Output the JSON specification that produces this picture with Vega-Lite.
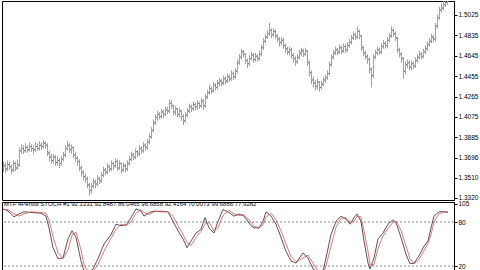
{
"$schema":"https://vega.github.io/schema/vega-lite/v6.json",
"padding":{"left":1,"top":0,"right":27,"bottom":0},
"bounds":"flush",
"spacing":2,
"background":"white",
"config":{"view":{"stroke":"#000","strokeWidth":1},"axis":{"labelFont":"Liberation Sans","labelFontSize":6.5,"labelColor":"#000","tickSize":3,"tickColor":"#000","domainColor":"#000","labelPadding":1,"title":null,"grid":false,"labelOverlap":false,"labelFlush":false,"labelBound":false}},
"datasets":{
"bars":[
{"i":0,"o":1.360,"h":1.366,"l":1.356,"c":1.362},
{"i":1,"o":1.362,"h":1.365,"l":1.355,"c":1.359},
{"i":2,"o":1.359,"h":1.367,"l":1.357,"c":1.363},
{"i":3,"o":1.363,"h":1.366,"l":1.358,"c":1.361},
{"i":4,"o":1.361,"h":1.363,"l":1.354,"c":1.358},
{"i":5,"o":1.358,"h":1.367,"l":1.356,"c":1.364},
{"i":6,"o":1.364,"h":1.366,"l":1.357,"c":1.360},
{"i":7,"o":1.360,"h":1.368,"l":1.358,"c":1.362},
{"i":8,"o":1.363,"h":1.379,"l":1.361,"c":1.376},
{"i":9,"o":1.376,"h":1.382,"l":1.373,"c":1.378},
{"i":10,"o":1.378,"h":1.381,"l":1.373,"c":1.376},
{"i":11,"o":1.376,"h":1.383,"l":1.374,"c":1.379},
{"i":12,"o":1.379,"h":1.381,"l":1.374,"c":1.377},
{"i":13,"o":1.377,"h":1.384,"l":1.375,"c":1.380},
{"i":14,"o":1.380,"h":1.382,"l":1.375,"c":1.378},
{"i":15,"o":1.378,"h":1.381,"l":1.373,"c":1.377},
{"i":16,"o":1.377,"h":1.384,"l":1.375,"c":1.380},
{"i":17,"o":1.380,"h":1.383,"l":1.376,"c":1.378},
{"i":18,"o":1.378,"h":1.385,"l":1.376,"c":1.381},
{"i":19,"o":1.381,"h":1.384,"l":1.377,"c":1.380},
{"i":20,"o":1.380,"h":1.386,"l":1.378,"c":1.383},
{"i":21,"o":1.383,"h":1.385,"l":1.378,"c":1.381},
{"i":22,"o":1.381,"h":1.383,"l":1.371,"c":1.374},
{"i":23,"o":1.374,"h":1.376,"l":1.366,"c":1.370},
{"i":24,"o":1.370,"h":1.373,"l":1.364,"c":1.367},
{"i":25,"o":1.367,"h":1.373,"l":1.364,"c":1.370},
{"i":26,"o":1.370,"h":1.372,"l":1.362,"c":1.365},
{"i":27,"o":1.365,"h":1.371,"l":1.362,"c":1.367},
{"i":28,"o":1.367,"h":1.369,"l":1.360,"c":1.364},
{"i":29,"o":1.364,"h":1.371,"l":1.362,"c":1.368},
{"i":30,"o":1.368,"h":1.375,"l":1.366,"c":1.372},
{"i":31,"o":1.372,"h":1.381,"l":1.370,"c":1.378},
{"i":32,"o":1.378,"h":1.385,"l":1.376,"c":1.381},
{"i":33,"o":1.381,"h":1.383,"l":1.374,"c":1.377},
{"i":34,"o":1.377,"h":1.382,"l":1.373,"c":1.379},
{"i":35,"o":1.379,"h":1.380,"l":1.369,"c":1.372},
{"i":36,"o":1.372,"h":1.375,"l":1.366,"c":1.369},
{"i":37,"o":1.369,"h":1.371,"l":1.362,"c":1.366},
{"i":38,"o":1.366,"h":1.368,"l":1.357,"c":1.360},
{"i":39,"o":1.360,"h":1.362,"l":1.352,"c":1.356},
{"i":40,"o":1.356,"h":1.358,"l":1.348,"c":1.352},
{"i":41,"o":1.352,"h":1.355,"l":1.346,"c":1.350},
{"i":42,"o":1.350,"h":1.352,"l":1.341,"c":1.344},
{"i":43,"o":1.344,"h":1.346,"l":1.334,"c":1.339},
{"i":44,"o":1.339,"h":1.346,"l":1.336,"c":1.343},
{"i":45,"o":1.343,"h":1.350,"l":1.341,"c":1.347},
{"i":46,"o":1.347,"h":1.349,"l":1.341,"c":1.345},
{"i":47,"o":1.345,"h":1.353,"l":1.343,"c":1.350},
{"i":48,"o":1.350,"h":1.352,"l":1.345,"c":1.348},
{"i":49,"o":1.348,"h":1.356,"l":1.346,"c":1.353},
{"i":50,"o":1.353,"h":1.361,"l":1.351,"c":1.358},
{"i":51,"o":1.358,"h":1.360,"l":1.353,"c":1.356},
{"i":52,"o":1.356,"h":1.364,"l":1.354,"c":1.361},
{"i":53,"o":1.361,"h":1.363,"l":1.356,"c":1.359},
{"i":54,"o":1.359,"h":1.367,"l":1.357,"c":1.364},
{"i":55,"o":1.364,"h":1.366,"l":1.358,"c":1.362},
{"i":56,"o":1.362,"h":1.369,"l":1.360,"c":1.366},
{"i":57,"o":1.366,"h":1.368,"l":1.357,"c":1.360},
{"i":58,"o":1.360,"h":1.367,"l":1.358,"c":1.364},
{"i":59,"o":1.364,"h":1.365,"l":1.355,"c":1.358},
{"i":60,"o":1.358,"h":1.365,"l":1.356,"c":1.362},
{"i":61,"o":1.362,"h":1.364,"l":1.356,"c":1.359},
{"i":62,"o":1.359,"h":1.367,"l":1.357,"c":1.364},
{"i":63,"o":1.364,"h":1.371,"l":1.362,"c":1.368},
{"i":64,"o":1.368,"h":1.375,"l":1.366,"c":1.372},
{"i":65,"o":1.372,"h":1.374,"l":1.367,"c":1.370},
{"i":66,"o":1.370,"h":1.378,"l":1.368,"c":1.375},
{"i":67,"o":1.375,"h":1.377,"l":1.370,"c":1.373},
{"i":68,"o":1.373,"h":1.381,"l":1.371,"c":1.378},
{"i":69,"o":1.378,"h":1.380,"l":1.373,"c":1.376},
{"i":70,"o":1.376,"h":1.384,"l":1.374,"c":1.381},
{"i":71,"o":1.381,"h":1.383,"l":1.376,"c":1.379},
{"i":72,"o":1.379,"h":1.387,"l":1.377,"c":1.384},
{"i":73,"o":1.384,"h":1.392,"l":1.382,"c":1.389},
{"i":74,"o":1.389,"h":1.398,"l":1.387,"c":1.395},
{"i":75,"o":1.395,"h":1.405,"l":1.393,"c":1.402},
{"i":76,"o":1.402,"h":1.410,"l":1.400,"c":1.407},
{"i":77,"o":1.407,"h":1.413,"l":1.404,"c":1.410},
{"i":78,"o":1.410,"h":1.412,"l":1.405,"c":1.408},
{"i":79,"o":1.408,"h":1.415,"l":1.406,"c":1.412},
{"i":80,"o":1.412,"h":1.414,"l":1.406,"c":1.410},
{"i":81,"o":1.410,"h":1.417,"l":1.408,"c":1.414},
{"i":82,"o":1.414,"h":1.417,"l":1.410,"c":1.413},
{"i":83,"o":1.413,"h":1.424,"l":1.411,"c":1.420},
{"i":84,"o":1.420,"h":1.423,"l":1.415,"c":1.418},
{"i":85,"o":1.418,"h":1.419,"l":1.409,"c":1.412},
{"i":86,"o":1.412,"h":1.418,"l":1.409,"c":1.415},
{"i":87,"o":1.415,"h":1.416,"l":1.407,"c":1.410},
{"i":88,"o":1.410,"h":1.416,"l":1.407,"c":1.413},
{"i":89,"o":1.413,"h":1.414,"l":1.404,"c":1.408},
{"i":90,"o":1.408,"h":1.410,"l":1.400,"c":1.404},
{"i":91,"o":1.404,"h":1.412,"l":1.402,"c":1.409},
{"i":92,"o":1.409,"h":1.416,"l":1.407,"c":1.413},
{"i":93,"o":1.413,"h":1.420,"l":1.411,"c":1.417},
{"i":94,"o":1.417,"h":1.419,"l":1.412,"c":1.415},
{"i":95,"o":1.415,"h":1.422,"l":1.413,"c":1.419},
{"i":96,"o":1.419,"h":1.421,"l":1.414,"c":1.417},
{"i":97,"o":1.417,"h":1.423,"l":1.414,"c":1.420},
{"i":98,"o":1.420,"h":1.422,"l":1.415,"c":1.418},
{"i":99,"o":1.418,"h":1.425,"l":1.416,"c":1.422},
{"i":100,"o":1.422,"h":1.424,"l":1.414,"c":1.418},
{"i":101,"o":1.418,"h":1.429,"l":1.416,"c":1.426},
{"i":102,"o":1.426,"h":1.433,"l":1.424,"c":1.430},
{"i":103,"o":1.430,"h":1.437,"l":1.428,"c":1.434},
{"i":104,"o":1.434,"h":1.436,"l":1.429,"c":1.432},
{"i":105,"o":1.432,"h":1.440,"l":1.430,"c":1.437},
{"i":106,"o":1.437,"h":1.439,"l":1.432,"c":1.435},
{"i":107,"o":1.435,"h":1.442,"l":1.433,"c":1.439},
{"i":108,"o":1.439,"h":1.444,"l":1.436,"c":1.441},
{"i":109,"o":1.441,"h":1.443,"l":1.436,"c":1.439},
{"i":110,"o":1.439,"h":1.446,"l":1.437,"c":1.443},
{"i":111,"o":1.443,"h":1.445,"l":1.438,"c":1.441},
{"i":112,"o":1.441,"h":1.448,"l":1.439,"c":1.445},
{"i":113,"o":1.445,"h":1.447,"l":1.440,"c":1.443},
{"i":114,"o":1.443,"h":1.451,"l":1.441,"c":1.448},
{"i":115,"o":1.448,"h":1.450,"l":1.442,"c":1.445},
{"i":116,"o":1.445,"h":1.453,"l":1.443,"c":1.450},
{"i":117,"o":1.450,"h":1.461,"l":1.448,"c":1.458},
{"i":118,"o":1.458,"h":1.466,"l":1.456,"c":1.463},
{"i":119,"o":1.463,"h":1.471,"l":1.461,"c":1.468},
{"i":120,"o":1.468,"h":1.470,"l":1.463,"c":1.466},
{"i":121,"o":1.466,"h":1.467,"l":1.457,"c":1.460},
{"i":122,"o":1.460,"h":1.462,"l":1.453,"c":1.457},
{"i":123,"o":1.457,"h":1.465,"l":1.455,"c":1.462},
{"i":124,"o":1.462,"h":1.468,"l":1.460,"c":1.465},
{"i":125,"o":1.465,"h":1.467,"l":1.458,"c":1.461},
{"i":126,"o":1.461,"h":1.467,"l":1.459,"c":1.464},
{"i":127,"o":1.464,"h":1.466,"l":1.459,"c":1.462},
{"i":128,"o":1.462,"h":1.469,"l":1.460,"c":1.466},
{"i":129,"o":1.466,"h":1.475,"l":1.464,"c":1.472},
{"i":130,"o":1.472,"h":1.481,"l":1.470,"c":1.478},
{"i":131,"o":1.478,"h":1.485,"l":1.476,"c":1.482},
{"i":132,"o":1.482,"h":1.488,"l":1.480,"c":1.485},
{"i":133,"o":1.485,"h":1.495,"l":1.483,"c":1.488},
{"i":134,"o":1.488,"h":1.490,"l":1.481,"c":1.484},
{"i":135,"o":1.484,"h":1.490,"l":1.482,"c":1.487},
{"i":136,"o":1.487,"h":1.489,"l":1.480,"c":1.483},
{"i":137,"o":1.483,"h":1.485,"l":1.477,"c":1.480},
{"i":138,"o":1.480,"h":1.482,"l":1.473,"c":1.477},
{"i":139,"o":1.477,"h":1.482,"l":1.474,"c":1.479},
{"i":140,"o":1.479,"h":1.481,"l":1.471,"c":1.474},
{"i":141,"o":1.474,"h":1.476,"l":1.467,"c":1.471},
{"i":142,"o":1.471,"h":1.473,"l":1.465,"c":1.468},
{"i":143,"o":1.468,"h":1.473,"l":1.465,"c":1.470},
{"i":144,"o":1.470,"h":1.472,"l":1.462,"c":1.465},
{"i":145,"o":1.465,"h":1.467,"l":1.458,"c":1.462},
{"i":146,"o":1.462,"h":1.464,"l":1.455,"c":1.459},
{"i":147,"o":1.459,"h":1.466,"l":1.457,"c":1.463},
{"i":148,"o":1.463,"h":1.470,"l":1.461,"c":1.467},
{"i":149,"o":1.467,"h":1.472,"l":1.464,"c":1.469},
{"i":150,"o":1.469,"h":1.471,"l":1.463,"c":1.466},
{"i":151,"o":1.466,"h":1.472,"l":1.464,"c":1.469},
{"i":152,"o":1.469,"h":1.470,"l":1.455,"c":1.458},
{"i":153,"o":1.458,"h":1.460,"l":1.445,"c":1.449},
{"i":154,"o":1.449,"h":1.451,"l":1.438,"c":1.442},
{"i":155,"o":1.442,"h":1.445,"l":1.435,"c":1.439},
{"i":156,"o":1.439,"h":1.442,"l":1.432,"c":1.436},
{"i":157,"o":1.436,"h":1.443,"l":1.433,"c":1.440},
{"i":158,"o":1.440,"h":1.441,"l":1.431,"c":1.435},
{"i":159,"o":1.435,"h":1.441,"l":1.433,"c":1.438},
{"i":160,"o":1.438,"h":1.445,"l":1.436,"c":1.442},
{"i":161,"o":1.442,"h":1.447,"l":1.439,"c":1.444},
{"i":162,"o":1.444,"h":1.451,"l":1.442,"c":1.448},
{"i":163,"o":1.448,"h":1.459,"l":1.446,"c":1.456},
{"i":164,"o":1.456,"h":1.466,"l":1.454,"c":1.463},
{"i":165,"o":1.463,"h":1.470,"l":1.461,"c":1.467},
{"i":166,"o":1.467,"h":1.473,"l":1.465,"c":1.470},
{"i":167,"o":1.470,"h":1.472,"l":1.465,"c":1.468},
{"i":168,"o":1.468,"h":1.475,"l":1.466,"c":1.472},
{"i":169,"o":1.472,"h":1.474,"l":1.466,"c":1.469},
{"i":170,"o":1.469,"h":1.476,"l":1.467,"c":1.473},
{"i":171,"o":1.473,"h":1.475,"l":1.467,"c":1.470},
{"i":172,"o":1.470,"h":1.477,"l":1.468,"c":1.474},
{"i":173,"o":1.474,"h":1.480,"l":1.472,"c":1.477},
{"i":174,"o":1.477,"h":1.484,"l":1.475,"c":1.481},
{"i":175,"o":1.481,"h":1.487,"l":1.479,"c":1.484},
{"i":176,"o":1.484,"h":1.486,"l":1.479,"c":1.482},
{"i":177,"o":1.482,"h":1.492,"l":1.480,"c":1.487},
{"i":178,"o":1.487,"h":1.489,"l":1.480,"c":1.483},
{"i":179,"o":1.483,"h":1.484,"l":1.469,"c":1.472},
{"i":180,"o":1.472,"h":1.474,"l":1.464,"c":1.467},
{"i":181,"o":1.467,"h":1.469,"l":1.461,"c":1.464},
{"i":182,"o":1.464,"h":1.466,"l":1.457,"c":1.461},
{"i":183,"o":1.461,"h":1.463,"l":1.448,"c":1.452},
{"i":184,"o":1.452,"h":1.454,"l":1.435,"c":1.446},
{"i":185,"o":1.446,"h":1.466,"l":1.444,"c":1.463},
{"i":186,"o":1.463,"h":1.470,"l":1.461,"c":1.467},
{"i":187,"o":1.467,"h":1.473,"l":1.465,"c":1.470},
{"i":188,"o":1.470,"h":1.472,"l":1.465,"c":1.468},
{"i":189,"o":1.468,"h":1.476,"l":1.466,"c":1.473},
{"i":190,"o":1.473,"h":1.479,"l":1.471,"c":1.476},
{"i":191,"o":1.476,"h":1.478,"l":1.471,"c":1.474},
{"i":192,"o":1.474,"h":1.482,"l":1.472,"c":1.479},
{"i":193,"o":1.479,"h":1.486,"l":1.477,"c":1.483},
{"i":194,"o":1.483,"h":1.492,"l":1.481,"c":1.488},
{"i":195,"o":1.488,"h":1.490,"l":1.482,"c":1.485},
{"i":196,"o":1.485,"h":1.487,"l":1.478,"c":1.481},
{"i":197,"o":1.481,"h":1.482,"l":1.467,"c":1.470},
{"i":198,"o":1.470,"h":1.472,"l":1.463,"c":1.466},
{"i":199,"o":1.466,"h":1.468,"l":1.458,"c":1.462},
{"i":200,"o":1.462,"h":1.463,"l":1.443,"c":1.450},
{"i":201,"o":1.450,"h":1.459,"l":1.447,"c":1.456},
{"i":202,"o":1.456,"h":1.461,"l":1.453,"c":1.458},
{"i":203,"o":1.458,"h":1.460,"l":1.451,"c":1.454},
{"i":204,"o":1.454,"h":1.460,"l":1.451,"c":1.457},
{"i":205,"o":1.457,"h":1.459,"l":1.452,"c":1.455},
{"i":206,"o":1.455,"h":1.463,"l":1.453,"c":1.460},
{"i":207,"o":1.460,"h":1.466,"l":1.458,"c":1.463},
{"i":208,"o":1.463,"h":1.469,"l":1.461,"c":1.466},
{"i":209,"o":1.466,"h":1.468,"l":1.461,"c":1.464},
{"i":210,"o":1.464,"h":1.471,"l":1.462,"c":1.468},
{"i":211,"o":1.468,"h":1.474,"l":1.466,"c":1.471},
{"i":212,"o":1.471,"h":1.478,"l":1.469,"c":1.475},
{"i":213,"o":1.475,"h":1.481,"l":1.473,"c":1.478},
{"i":214,"o":1.478,"h":1.485,"l":1.476,"c":1.482},
{"i":215,"o":1.482,"h":1.484,"l":1.477,"c":1.480},
{"i":216,"o":1.480,"h":1.495,"l":1.478,"c":1.492},
{"i":217,"o":1.492,"h":1.503,"l":1.490,"c":1.500},
{"i":218,"o":1.500,"h":1.510,"l":1.498,"c":1.507},
{"i":219,"o":1.507,"h":1.513,"l":1.505,"c":1.509},
{"i":220,"o":1.509,"h":1.516,"l":1.507,"c":1.512},
{"i":221,"o":1.512,"h":1.518,"l":1.510,"c":1.514},
{"i":222,"o":1.514,"h":1.519,"l":1.512,"c":1.515}
],
"stoch":[
{"i":0,"k":98,"d":97},{"i":2.5,"k":95,"d":97},{"i":5.5,"k":87,"d":91},{"i":8,"k":91,"d":88},{"i":10.5,"k":94,"d":91},{"i":14,"k":93,"d":94},{"i":19,"k":92,"d":93},{"i":21.5,"k":88,"d":92},{"i":23,"k":72,"d":83},{"i":25,"k":45,"d":60},{"i":27.5,"k":30,"d":38},{"i":30,"k":31,"d":30},{"i":32.5,"k":57,"d":42},{"i":34.5,"k":68,"d":62},{"i":36.5,"k":59,"d":66},{"i":39,"k":27,"d":42},{"i":40.5,"k":13,"d":22},{"i":42.5,"k":11,"d":12},{"i":45,"k":16,"d":13},{"i":47.5,"k":30,"d":22},{"i":50.5,"k":50,"d":40},{"i":54,"k":63,"d":58},{"i":56.5,"k":77,"d":70},{"i":59,"k":75,"d":77},{"i":61.5,"k":76,"d":75},{"i":64,"k":86,"d":80},{"i":66.5,"k":98,"d":92},{"i":69,"k":95,"d":97},{"i":70.5,"k":88,"d":93},{"i":73,"k":93,"d":90},{"i":75.5,"k":95,"d":94},{"i":79,"k":94,"d":95},{"i":82.5,"k":94,"d":94},{"i":85,"k":81,"d":88},{"i":87.5,"k":68,"d":75},{"i":90,"k":57,"d":63},{"i":92,"k":45,"d":52},{"i":94,"k":54,"d":48},{"i":96.5,"k":65,"d":59},{"i":99,"k":70,"d":67},{"i":101,"k":86,"d":77},{"i":103,"k":72,"d":80},{"i":105.5,"k":65,"d":68},{"i":107.5,"k":81,"d":72},{"i":110,"k":97,"d":89},{"i":113,"k":93,"d":96},{"i":115.5,"k":88,"d":91},{"i":118,"k":91,"d":89},{"i":120.5,"k":88,"d":90},{"i":124,"k":75,"d":80},{"i":125.5,"k":72,"d":74},{"i":128,"k":72,"d":72},{"i":130,"k":81,"d":76},{"i":131.5,"k":94,"d":87},{"i":134,"k":88,"d":92},{"i":136.5,"k":77,"d":83},{"i":139,"k":59,"d":68},{"i":141.5,"k":40,"d":50},{"i":144,"k":27,"d":33},{"i":146.5,"k":24,"d":26},{"i":150,"k":38,"d":31},{"i":152.5,"k":31,"d":35},{"i":155,"k":16,"d":24},{"i":157.5,"k":11,"d":13},{"i":160,"k":13,"d":11},{"i":161.5,"k":31,"d":20},{"i":164,"k":63,"d":47},{"i":166.5,"k":81,"d":73},{"i":169,"k":88,"d":85},{"i":171.5,"k":84,"d":86},{"i":173.5,"k":77,"d":80},{"i":175.5,"k":86,"d":81},{"i":177,"k":91,"d":88},{"i":179,"k":81,"d":87},{"i":180.5,"k":54,"d":68},{"i":182.5,"k":24,"d":40},{"i":183.5,"k":16,"d":22},{"i":185.5,"k":31,"d":22},{"i":187.5,"k":57,"d":44},{"i":190,"k":65,"d":61},{"i":192.5,"k":77,"d":71},{"i":195,"k":83,"d":80},{"i":196.5,"k":79,"d":81},{"i":199,"k":59,"d":69},{"i":201.5,"k":36,"d":47},{"i":203.5,"k":23,"d":30},{"i":205.5,"k":24,"d":23},{"i":208,"k":34,"d":29},{"i":210.5,"k":47,"d":41},{"i":212.5,"k":54,"d":51},{"i":214,"k":72,"d":63},{"i":215.5,"k":88,"d":80},{"i":218,"k":94,"d":91},{"i":220.5,"k":94,"d":94},{"i":222.5,"k":93,"d":94}
],
"levels":[{"v":80},{"v":20}]
},
"vconcat":[
{
"width":452,"height":199,
"data":{"name":"bars"},
"resolve":{"axis":{"y":"independent"}},
"encoding":{"x":{"field":"i","type":"quantitative","scale":{"domain":[-0.5,225.5],"nice":false,"zero":false},"axis":null}},
"layer":[
{"mark":{"type":"rule","color":"#a0a0a0","strokeWidth":1,"xOffset":0.5,"clip":true},
"encoding":{"y":{"field":"l","type":"quantitative","scale":{"domain":[1.3301,1.5155],"nice":false,"zero":false},"axis":{"orient":"right","values":[1.332,1.351,1.3696,1.3885,1.4075,1.4265,1.4455,1.4645,1.4835,1.5025],"format":".4f","labelOverlap":false}},"y2":{"field":"h"}}},
{"mark":{"type":"tick","orient":"horizontal","size":1,"thickness":1,"xOffset":-0.5,"color":"#606060","clip":true},
"encoding":{"y":{"field":"o","type":"quantitative","axis":null}}},
{"mark":{"type":"tick","orient":"horizontal","size":1,"thickness":1,"xOffset":1.5,"color":"#606060","clip":true},
"encoding":{"y":{"field":"c","type":"quantitative","axis":null}}}
]
},
{
"width":452,"height":69,
"resolve":{"axis":{"y":"independent"}},
"title":{"text":"MTF 4Period STOCH #1  92.1231 92.8487 86.0465 96.6858 92.4164 70.0073 99.6866 77.9282","anchor":"start","frame":"group","orient":"top","offset":-6,"baseline":"top","font":"Liberation Sans","fontSize":6,"fontWeight":"normal","color":"#000","dx":2},
"layer":[
{"data":{"name":"levels"},"mark":{"type":"rule","color":"#8a8a8a","strokeDash":[2,2],"strokeWidth":1},
"encoding":{"y":{"field":"v","type":"quantitative","scale":{"domain":[13.2,107.3],"nice":false,"zero":false},"axis":{"orient":"right","values":[20,80,105],"labelOverlap":false}}}},
{"data":{"name":"stoch"},"mark":{"type":"line","color":"#2a2a2a","strokeWidth":0.8,"clip":true},
"encoding":{"x":{"field":"i","type":"quantitative","scale":{"domain":[-0.5,225.5],"nice":false,"zero":false},"axis":null},"y":{"field":"k","type":"quantitative","axis":null}}},
{"data":{"name":"stoch"},"mark":{"type":"line","color":"#e05050","strokeWidth":0.8,"clip":true},
"encoding":{"x":{"field":"i","type":"quantitative"},"y":{"field":"d","type":"quantitative","axis":null}}}
]
}
]
}
